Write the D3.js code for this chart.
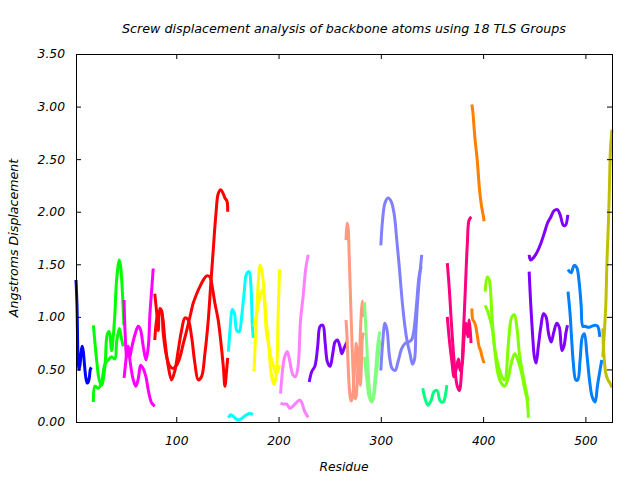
<!DOCTYPE html>
<html>
<head>
<meta charset="utf-8">
<script src="https://cdn.jsdelivr.net/npm/d3@7"></script>
<style>
  html, body { margin: 0; padding: 0; background: #fff; }
  text { font-family: "DejaVu Sans", sans-serif; font-style: italic; font-size: 12px; fill: #000; }
</style>
</head>
<body>
<svg id="chart" width="640" height="480"></svg>
<script>
// ---------------- DATA (residue, screw displacement in Angstroms) ----------------
const titleText = "Screw displacement analysis of backbone atoms using 18 TLS Groups";
const xLabel = "Residue";
const yLabel = "Angstroms Displacement";
const xTicks = [100, 200, 300, 400, 500];
const yTicks = [0, 0.5, 1.0, 1.5, 2.0, 2.5, 3.0, 3.5];
const residueRange = [2, 526];
const displacementRange = [0, 3.5];

const group01 = [
  [[2,1.35],[3,1.1],[4,0.62],[5,0.5],[6,0.55],[7,0.66],[8,0.72],[9,0.68],[10,0.58],[11,0.47],[12,0.4],[13,0.37],[14,0.38],[15,0.42],[16,0.5],[17,0.52]]
];
const group02 = [
  [[19,0.92],[22.2,0.59],[24.7,0.40],[27,0.35],[30.3,0.53],[32.5,0.83],[34.5,0.86],[36.8,0.68],[38.4,0.81],[40,1.03],[41.7,1.35],[44.3,1.54],[45.6,1.48],[47.6,1.19],[48.8,0.92]],
  [[19,0.19],[20.5,0.34],[23.7,0.32],[27,0.38],[30.3,0.55],[33.5,0.59],[36.8,0.62],[40,0.60],[41.7,0.76],[44.3,0.89],[46.3,0.80],[48.2,0.72]]
];
const group03 = [
  [[49,1.16],[50,0.85],[51.6,0.62],[53.2,0.72],[54.7,0.59],[58,0.40],[60.6,0.34],[63,0.42],[65.2,0.54],[67,0.52],[70.4,0.43],[72.7,0.30],[76,0.18],[79,0.15]],
  [[49,0.42],[50.8,0.59],[52.1,0.72],[54.6,0.62],[56.3,0.70],[59.6,0.83],[62.8,0.91],[65,0.88],[67.7,0.72],[70.4,0.59],[72.7,0.72],[74.3,1.03],[76,1.26],[77.5,1.46]]
];
const group04 = [
  [[79,1.22],[81,1.03],[82.4,0.87],[84,1.08],[85.7,1.06],[87.3,0.84],[90.6,0.62],[93.8,0.53],[97,0.51],[100.4,0.54],[103.7,0.62],[107,0.75],[110.2,0.87],[113.4,1.0],[116.6,1.13],[120,1.22],[123.2,1.29],[126.4,1.35],[129.7,1.39],[133,1.38],[134.6,1.32],[137.8,1.13],[141,0.97],[143.4,0.78],[146,0.53],[147.6,0.34],[149.3,0.5],[150.3,0.61]],
  [[79,0.78],[80.8,0.97],[82.4,1.03],[84.6,1.06],[86.6,1.0],[88.9,0.78],[92.2,0.53],[95.4,0.40],[98.7,0.49],[101.9,0.68],[105.2,0.87],[108.5,0.99],[111.7,0.97],[115,0.81],[118.2,0.56],[121.5,0.40],[124.7,0.43],[128,0.65],[131.3,0.97],[133.6,1.29],[135.9,1.60],[138.8,1.98],[141,2.17],[143.4,2.21],[146,2.17],[147.6,2.13],[149.6,2.1],[150.3,2.0]]
];
const group05 = [
  [[151,0.67],[152.5,0.87],[154.9,1.07],[157,1.03],[159.2,0.87],[161.6,0.86],[163.9,1.0],[166.3,1.22],[168.8,1.41],[171.3,1.43],[173,1.3],[174.3,0.94],[175.3,0.80]],
  [[151,0.04],[153.5,0.07],[156,0.05],[158.5,0.03],[161,0.02],[163.5,0.03],[166,0.05],[169,0.07],[172,0.08],[175,0.07]]
];
const group06 = [
  [[176,0.48],[178,0.9],[180,1.3],[182,1.49],[184,1.42],[186,1.22],[188,0.97],[190.5,0.72],[192.5,0.49],[194,0.40],[195.5,0.36],[197,0.40],[198.5,0.55],[199.5,0.97],[201,1.45]],
  [[176,0.91],[178,1.0],[180,1.1],[182,1.2],[184.5,1.26],[186.5,1.1],[188,0.87],[190,0.75],[192.5,0.62],[194,0.57],[196,0.50],[198,0.46],[200,0.50],[201,0.54]]
];
const group07 = [
  [[202,0.27],[204,0.50],[206,0.62],[208.5,0.67],[211,0.58],[214,0.45],[216.5,0.43],[219,0.52],[221.5,0.97],[224,1.19],[226.5,1.45],[229,1.59]],
  [[202,0.18],[205,0.17],[208,0.17],[211,0.13],[214,0.15],[217,0.18],[220.5,0.21],[222.5,0.19],[225.5,0.10],[229,0.045]]
];
const group08 = [
  [[230,0.38],[232.5,0.48],[235.5,0.53],[238.3,0.72],[240.6,0.91],[243.3,0.92],[245.6,0.75],[247.8,0.57],[250.4,0.53],[253,0.65],[255.2,0.76],[257.5,0.78],[260,0.72],[261.8,0.65],[264,0.70],[266.7,0.76]]
];
const group09 = [
  [[266,1.73],[267,1.89],[268,1.85],[269,1.6],[270,1.30],[271,1.0],[272,0.70],[273,0.45],[274,0.28],[275,0.22],[276,0.25],[277,0.40],[278,0.55],[279,0.45],[280,0.35],[281,0.55],[282,0.8],[283,0.85]],
  [[266,0.97],[267,0.80],[268,0.55],[269,0.35],[270,0.24],[271,0.20],[272,0.22],[273,0.30],[274,0.45],[275,0.60],[276,0.75],[277,0.65],[278,0.50],[279,0.60],[280,0.85],[281,1.05],[282,1.15],[283,1.0]]
];
const group10 = [
  [[284,1.14],[285.5,0.87],[287,0.59],[288.6,0.34],[290.3,0.22],[292,0.21],[293.6,0.34],[295.3,0.53],[296.9,0.72],[299,0.86]],
  [[284,0.62],[286.4,0.40],[288.6,0.24],[291.2,0.19],[293.5,0.27],[295.5,0.45],[297.5,0.62],[299,0.78]]
];
const group11 = [
  [[300,1.68],[301.7,1.92],[304,2.08],[307,2.13],[310,2.10],[313,1.98],[315.6,1.73],[318,1.48],[320.5,1.19],[322.8,0.97],[325.5,0.78],[328.5,0.65],[331,0.55],[333,0.60],[334.3,0.87],[336.8,1.26],[340,1.59]],
  [[300,0.49],[302,0.78],[304,0.94],[306,0.88],[308.5,0.62],[311,0.51],[314,0.49],[317,0.58],[320.5,0.70],[324,0.75],[327,0.76],[330,0.78],[332,0.85],[335,1.13],[337.3,1.38],[339.5,1.48]]
];
const group12 = [
  [[341,0.32],[343,0.23],[346,0.16],[349,0.20],[352,0.29],[355,0.30],[358,0.20],[361,0.19],[363,0.25],[364.5,0.35]]
];
const group13 = [
  [[365,1.51],[367,1.26],[368.6,1.0],[370.3,0.75],[372.5,0.49],[374.8,0.34],[376.8,0.30],[379,0.49],[380.6,0.81],[382.6,1.26],[384.6,1.70],[386.3,1.92],[388.5,1.95]],
  [[365,1.0],[367,0.78],[369.3,0.59],[371.6,0.43],[374.2,0.53],[376,0.60],[377.5,0.49],[379.5,0.55],[381.4,0.81],[383.3,0.94],[385,0.81],[386.5,0.97],[388.2,0.75]]
];
const group14 = [
  [[389,3.02],[390,2.95],[391,2.82],[392.5,2.65],[394,2.52],[395,2.40],[396.5,2.21],[398.5,2.05],[400,1.97],[401,1.91]],
  [[389,1.08],[390,0.97],[391.5,0.95],[393,0.90],[394.5,0.81],[396,0.72],[397.5,0.68],[399,0.62],[401,0.56]]
];
const group15 = [
  [[402,1.24],[404,1.38],[406,1.35],[408.5,1.03],[411,0.72],[414.5,0.46],[417.8,0.37],[421,0.34],[424,0.40],[427.6,0.56],[430.9,0.65],[433.6,0.60],[437.8,0.46],[440.1,0.34],[443,0.21],[444.3,0.04]],
  [[402,1.11],[404.5,1.05],[408.5,0.91],[411.7,0.68],[415,0.53],[418.3,0.43],[421,0.40],[425,0.78],[428,1.0],[430.5,1.02],[433,0.9],[435.5,0.65],[438,0.5],[440,0.4],[442,0.3],[444,0.2]]
];
const group16 = [
  [[445,1.59],[446.5,1.54],[449.8,1.57],[453,1.62],[456.5,1.70],[459.6,1.79],[462.9,1.89],[466.2,1.95],[469.4,2.01],[472.7,2.02],[475.3,1.97],[478.5,1.87],[480.5,1.87],[482.8,1.97]],
  [[445,1.43],[446.5,1.13],[448.5,0.81],[450.1,0.62],[451.8,0.56],[454,0.72],[456.5,0.91],[459,1.03],[461.5,1.0],[464,0.84],[466.5,0.76],[469,0.85],[472,0.94],[474.5,0.90],[477,0.68],[479,0.72],[481,0.85],[482.5,0.92]]
];
const group17 = [
  [[483,1.45],[486,1.42],[489,1.49],[491.5,1.47],[494,1.32],[495.9,1.10],[497.5,0.91],[499.8,0.91],[503,0.90],[506,0.91],[509.5,0.92],[512,0.91],[514,0.81]],
  [[483,1.24],[485,1.03],[486.6,0.78],[488.2,0.56],[490.6,0.40],[492.5,0.40],[494.8,0.59],[497,0.81],[499,0.84],[501.4,0.65],[504,0.40],[506.6,0.24],[509.5,0.19],[511.7,0.34],[513.7,0.46],[516,0.59]]
];
const group18 = [
  [[517,0.89],[518,0.65],[520,0.46],[522,0.40],[524,0.37],[526,0.33]],
  [[517,0.62],[518.5,0.85],[520,1.13],[521,1.51],[522.5,1.89],[523.5,2.24],[524.5,2.59],[526,2.78]]
];

const groups = [group01, group02, group03, group04, group05, group06, group07, group08, group09,
                group10, group11, group12, group13, group14, group15, group16, group17, group18];
const groupColors = ["#0000ff", "#00ff00", "#ff00ff", "#ff0000", "#00ffff", "#ffff00", "#ff80ff", "#8000ff", "#ff9980",
                     "#80ff80", "#8080ff", "#00ff80", "#ff0080", "#ff8000", "#80ff00", "#8000ff", "#0080ff", "#c0c000"];

// ---------------- LAYOUT ----------------
const margin = { left: 76, right: 28, top: 54, bottom: 58 };
const W = 640, H = 480;
const svg = d3.select("#chart");

const x = d3.scaleLinear().domain(residueRange).range([margin.left, W - margin.right]);
const y = d3.scaleLinear().domain(displacementRange).range([H - margin.bottom, margin.top]);

const line = d3.line()
  .x(d => x(d[0]))
  .y(d => y(d[1]))
  .curve(d3.curveCatmullRom.alpha(0.5));

// Data lines
const plot = svg.append("g");
groups.forEach((g, i) => {
  g.forEach(series => {
    plot.append("path")
      .datum(series)
      .attr("fill", "none")
      .attr("stroke", groupColors[i])
      .attr("stroke-width", 3)
      .attr("stroke-linejoin", "round")
      .attr("stroke-linecap", "butt")
      .attr("d", line);
  });
});

// Axes (inward ticks, mirrored)
const tickLen = 5;
const fmt = d3.format(".2f");

const gx = svg.append("g").attr("transform", `translate(0,${y(0)})`)
  .call(d3.axisBottom(x).tickValues(xTicks).tickSizeInner(-tickLen).tickSizeOuter(0).tickPadding(14));
const gxTop = svg.append("g").attr("transform", `translate(0,${y(3.5)})`)
  .call(d3.axisTop(x).tickValues(xTicks).tickSizeInner(-tickLen).tickSizeOuter(0).tickFormat(""));
const gy = svg.append("g").attr("transform", `translate(${x(residueRange[0])},0)`)
  .call(d3.axisLeft(y).tickValues(yTicks).tickSizeInner(-tickLen).tickSizeOuter(0).tickPadding(11).tickFormat(fmt));
const gyRight = svg.append("g").attr("transform", `translate(${x(residueRange[1])},0)`)
  .call(d3.axisRight(y).tickValues(yTicks).tickSizeInner(-tickLen).tickSizeOuter(0).tickFormat(""));

[gx, gxTop, gy, gyRight].forEach(g => {
  g.select(".domain").remove();
  g.selectAll(".tick line").attr("stroke", "#000").attr("stroke-width", 1);
  g.selectAll("text").attr("font-family", null).attr("font-size", null)
    .style("font-family", "'DejaVu Sans', sans-serif").style("font-style", "italic").style("font-size", "12.3px").attr("fill", "#000");
});

// Frame
svg.append("rect")
  .attr("x", x(residueRange[0]) + 0.5)
  .attr("y", y(3.5) + 0.5)
  .attr("width", x(residueRange[1]) - x(residueRange[0]))
  .attr("height", y(0) - y(3.5))
  .attr("fill", "none")
  .attr("stroke", "#000")
  .attr("stroke-width", 1);

// Titles
const cx = (x(residueRange[0]) + x(residueRange[1])) / 2;
svg.append("text").attr("x", cx).attr("y", 33).attr("text-anchor", "middle").style("font-size", "12.7px").text(titleText);
svg.append("text").attr("x", cx).attr("y", 471).attr("text-anchor", "middle").style("font-size", "12.3px").text(xLabel);
svg.append("text")
  .attr("transform", `translate(18,${(y(0) + y(3.5)) / 2}) rotate(-90)`)
  .attr("text-anchor", "middle").style("font-size", "12.6px").text(yLabel);
</script>
</body>
</html>
